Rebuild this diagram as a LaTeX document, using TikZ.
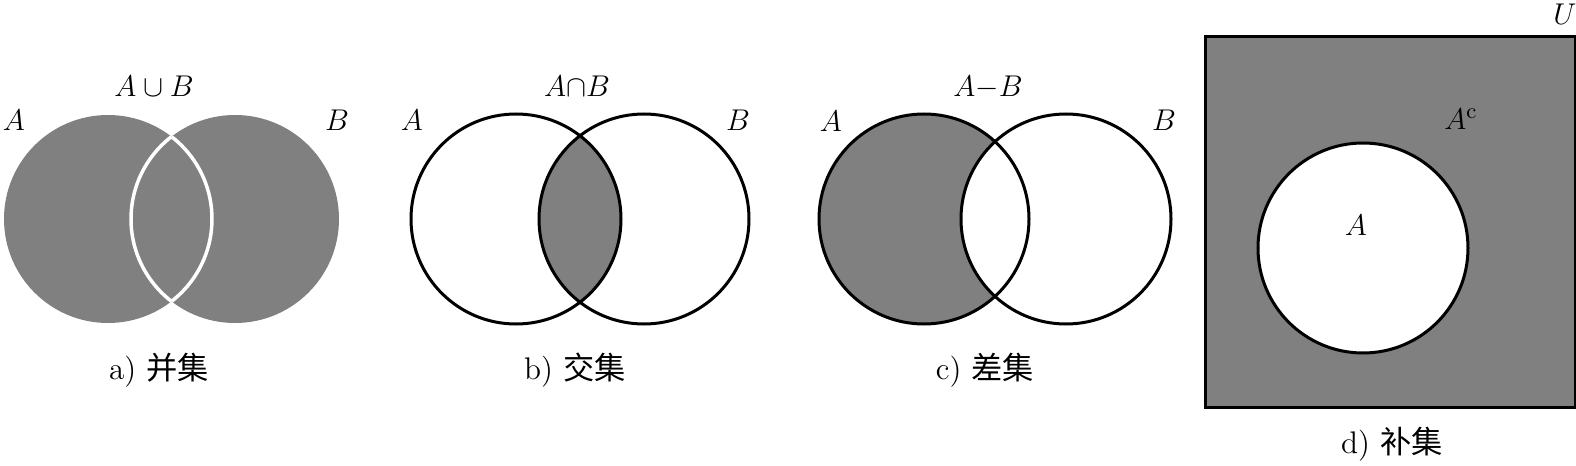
\documentclass[tikz,border=0pt]{standalone}
\usepackage{fontspec}
\newfontfamily\cjk{Noto Sans CJK SC}
\begin{document}
\begin{tikzpicture}[x=0.4pt,y=-0.4pt,
  every node/.style={font=\fontsize{12.5}{15}\selectfont, inner sep=0pt},
  grayfill/.style={fill=black!50},
  outline/.style={line width=1.2pt},
  captxt/.style={font=\fontsize{12.5}{15}\selectfont}]
\useasboundingbox (0,0) rectangle (1576,466);
% ---- a) union
\fill[grayfill] (108,219) circle[radius=41.6pt];
\fill[grayfill] (235,219) circle[radius=41.6pt];
\begin{scope}
  \clip (108,219) circle[radius=41.6pt];
  \draw[white,line width=1.4pt] (235,219) circle[radius=41.6pt];
\end{scope}
\begin{scope}
  \clip (235,219) circle[radius=41.6pt];
  \draw[white,line width=1.4pt] (108,219) circle[radius=41.6pt];
\end{scope}
\node (aA) at (14,120) {$A$};
\node (aB) at (337,120) {$B$};
\node (aU) at (154,86) {$A\cup B$};
\node[captxt] (acap) at (159,370) {a) \cjk 并集};
% ---- b) intersection
\begin{scope}
  \clip (516,219) circle[radius=42pt];
  \fill[grayfill] (644,219) circle[radius=42pt];
\end{scope}
\draw[outline] (516,219) circle[radius=42pt];
\draw[outline] (644,219) circle[radius=42pt];
\node (bA) at (412,120) {$A$};
\node (bB) at (738,120) {$B$};
\node (bI) at (577,86) {$A{\cap}B$};
\node[captxt] (bcap) at (575,370) {b) \cjk 交集};
% ---- c) difference
\fill[grayfill] (924,219) circle[radius=42pt];
\fill[white] (1066,219) circle[radius=42pt];
\draw[outline] (924,219) circle[radius=42pt];
\draw[outline] (1066,219) circle[radius=42pt];
\node (cA) at (831,121) {$A$};
\node (cB) at (1164,120) {$B$};
\node (cD) at (988,88) {$A{-}B$};
\node[captxt] (ccap) at (985,370) {c) \cjk 差集};
% ---- d) complement
\draw[outline,grayfill] (1205,37) rectangle (1575,408);
\draw[outline,fill=white] (1363,248) circle[radius=42pt];
\node (dU) at (1565,14) {$U$};
\node (dAc) at (1461,119) {$A^{\mathrm{c}}$};
\node (dA) at (1356,225) {$A$};
\node[captxt] (dcap) at (1392,444) {d) \cjk 补集};
\end{tikzpicture}
\end{document}
